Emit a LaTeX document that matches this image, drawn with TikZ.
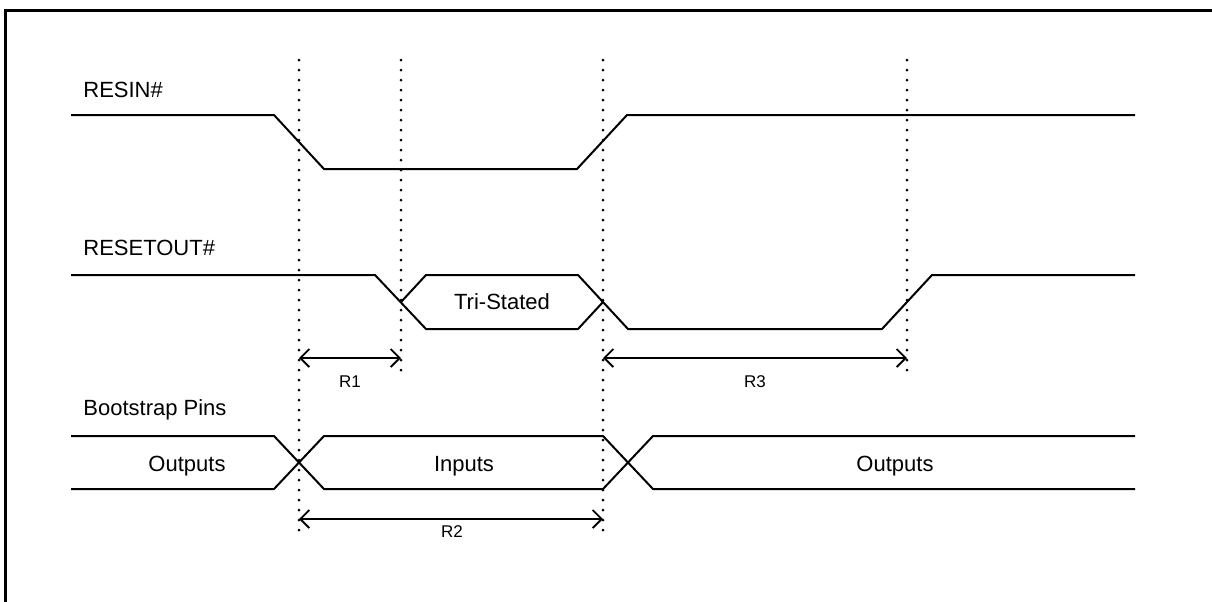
\documentclass[tikz,border=0pt]{standalone}
\usepackage{fontspec}
\setmainfont{Liberation Sans}
\usetikzlibrary{arrows.meta}
\begin{document}
\begin{tikzpicture}[x=0.5pt,y=-0.5pt,
  sig/.style={line width=1pt},
  guide/.style={line width=1.5pt, dash pattern=on 0pt off 5pt, line cap=round},
  dimline/.style={line width=0.9pt, {Straight Barb[length=4.5pt,width=9pt]}-{Straight Barb[length=4.5pt,width=9pt]}},
  lbl/.style={font=\fontsize{11pt}{13pt}\selectfont, inner sep=0pt},
  sublbl/.style={font=\fontsize{8.5pt}{10pt}\selectfont, inner sep=0pt}]
\useasboundingbox (0,0) rectangle (1212,601);
% frame (cut off at right and bottom)
\draw[line width=1.5pt] (1213,10.5) -- (5.5,10.5) -- (5.5,602);

% signal names
\node[lbl, anchor=base west] (resin) at (83,97) {RESIN\#};
\node[lbl, anchor=base west] (resetout) at (83,255) {RESETOUT\#};
\node[lbl, anchor=base west] (boot) at (83,415) {Bootstrap Pins};

% guide lines
\coordinate (g1t) at (299,60);  \coordinate (g1b) at (299,535);
\coordinate (g2t) at (401,60);  \coordinate (g2b) at (401,372);
\coordinate (g3t) at (603,60);  \coordinate (g3b) at (603,535);
\coordinate (g4t) at (907,60);  \coordinate (g4b) at (907,372);
\draw[guide] (g1t) -- (g1b);
\draw[guide] (g2t) -- (g2b);
\draw[guide] (g3t) -- (g3b);
\draw[guide] (g4t) -- (g4b);

% RESIN#
\draw[sig] (71,115) -- (274,115) -- (324,169) -- (577,169) -- (627,115) -- (1135,115);

% RESETOUT#
\draw[sig] (71,275) -- (375,275) -- (426,329) -- (578,329) -- (603,302);
\draw[sig] (401,302) -- (426,275) -- (578,275) -- (628,329) -- (882,329) -- (932,275) -- (1135,275);
\node[lbl, anchor=base] (tri) at (502,309) {Tri-Stated};

% Bootstrap bus
\draw[sig] (71,436) -- (274,436) -- (324,489) -- (603,489) -- (653,436) -- (1135,436);
\draw[sig] (71,489) -- (274,489) -- (324,436) -- (603,436) -- (653,489) -- (1135,489);
\node[lbl, anchor=base] (out1) at (187,471) {Outputs};
\node[lbl, anchor=base] (inp) at (464,471) {Inputs};
\node[lbl, anchor=base] (out2) at (895,471) {Outputs};

% dimensions
\coordinate (r1a) at (299,358); \coordinate (r1b) at (401,358);
\coordinate (r3a) at (603,358); \coordinate (r3b) at (907,358);
\coordinate (r2a) at (299,519); \coordinate (r2b) at (603,519);
\draw[dimline] (r1a) -- (r1b);
\draw[dimline] (r3a) -- (r3b);
\draw[dimline] (r2a) -- (r2b);
\node[sublbl, anchor=base] (r1) at (350,387) {R1};
\node[sublbl, anchor=base] (r3) at (755,387) {R3};
\node[sublbl, anchor=base] (r2) at (452,537) {R2};
\end{tikzpicture}
\end{document}
